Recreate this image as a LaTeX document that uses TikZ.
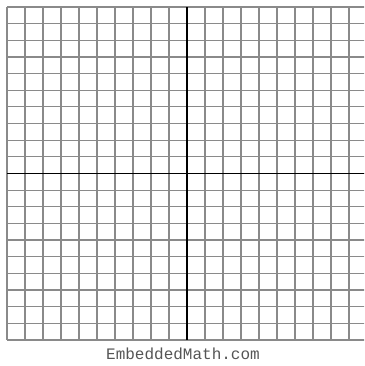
\documentclass[tikz,border=0pt]{standalone}
\usepackage{fontspec}
\newfontfamily\sitefont{Liberation Mono}
\definecolor{gridgray}{HTML}{8a8a8a}
\definecolor{labelgray}{HTML}{555555}
\tikzset{
	gridline/.style={draw=gridgray, line width=1.2pt},
	axisline/.style={draw=black, line width=1.8pt}
}

\begin{document}
\begin{tikzpicture}[x=1pt, y=1pt]
	\useasboundingbox (0,0) rectangle (364,366);
	\clip (0,0) rectangle (364,366);
	\begin{scope}[shift={(7,26)}, x=18pt, y=16.65pt]
		\foreach \i in {0,...,20} {
			\draw[gridline] (\i,0) -- (\i,20);
			\draw[gridline] (0,\i) -- (20,\i);
		}
		\draw[axisline] (0,10) -- (20,10);
		\draw[axisline] (10,0) -- (10,20);
	\end{scope}
	\node[font=\sitefont\fontsize{16}{18}\selectfont, text=labelgray] (site) at (183,12) {EmbeddedMath.com};
\end{tikzpicture}
\end{document}
